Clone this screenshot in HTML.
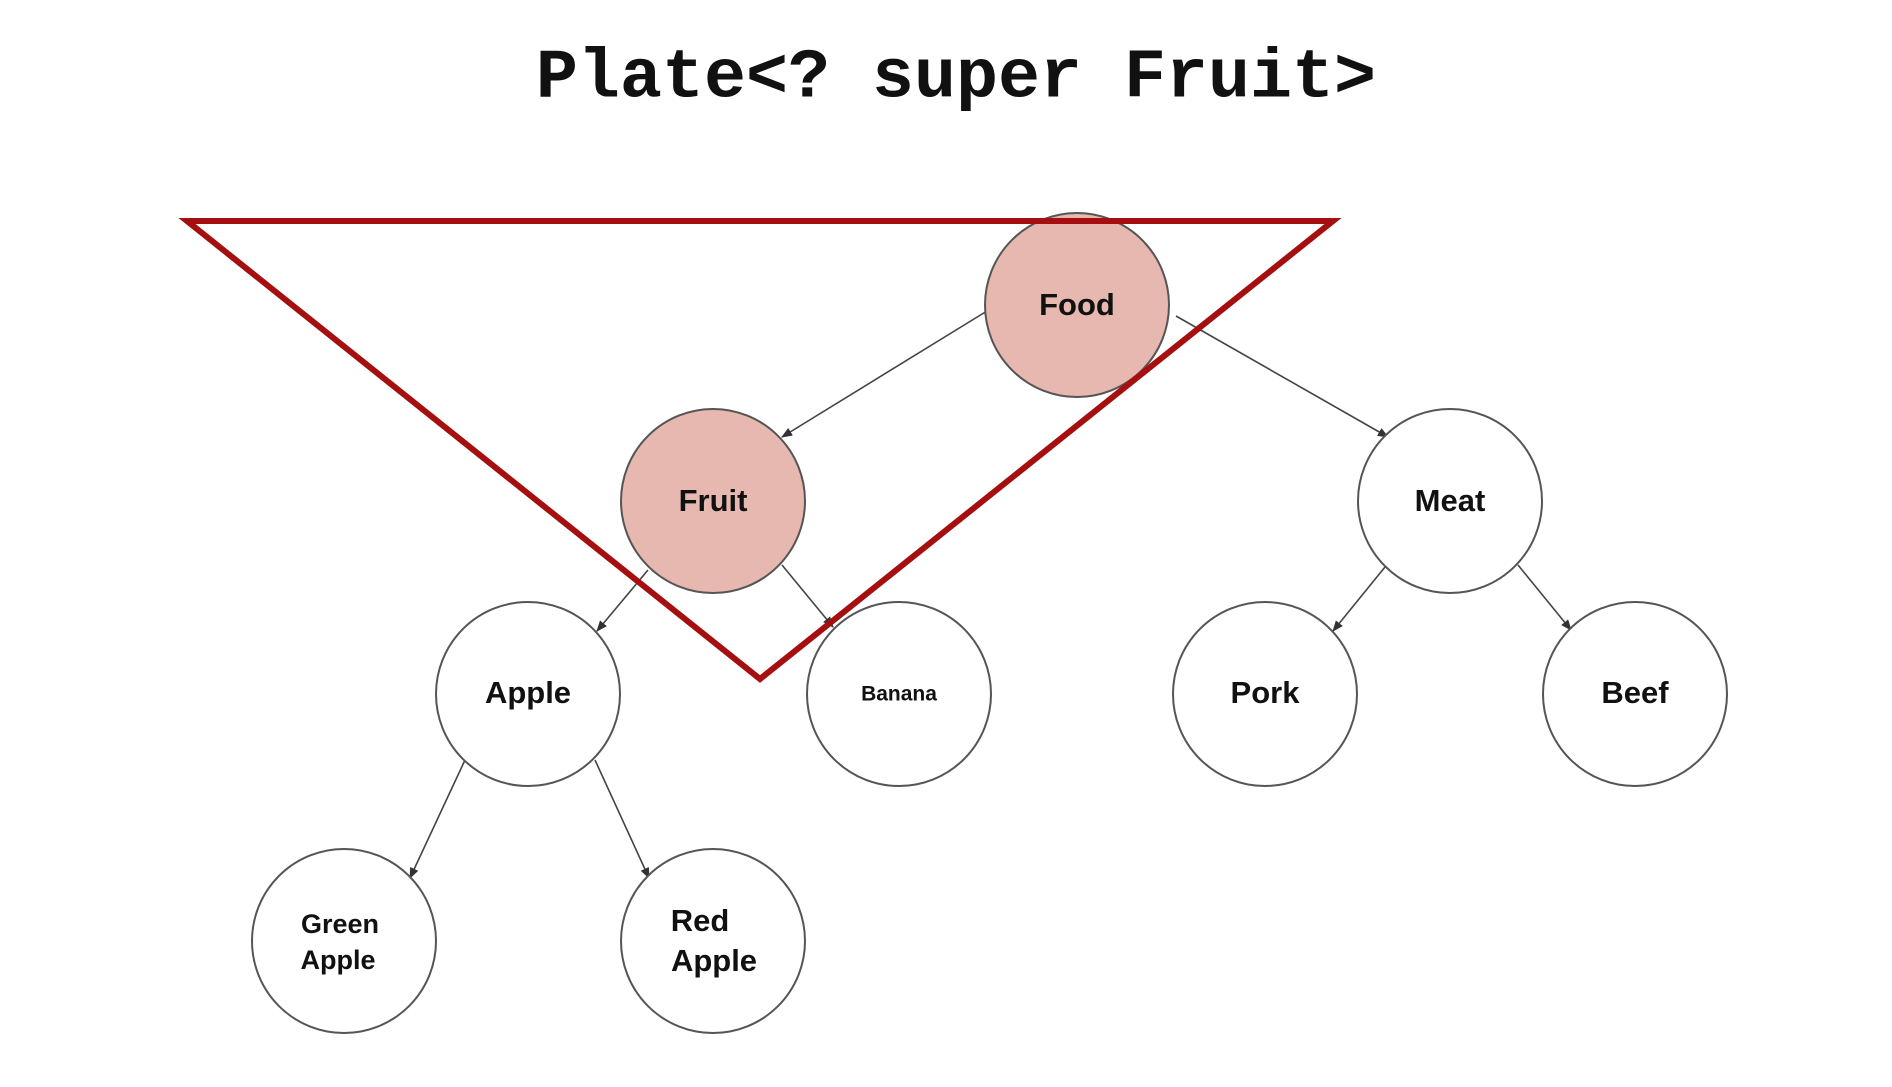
<!DOCTYPE html>
<html><head><style>
html,body{margin:0;padding:0;background:#fff;}
svg{display:block;}
</style></head><body>
<svg width="1892" height="1087" viewBox="0 0 1892 1087" xmlns="http://www.w3.org/2000/svg">
<defs><marker id="a" viewBox="0 0 10 10" refX="9" refY="5" markerWidth="7" markerHeight="7" orient="auto"><path d="M0,1 L10,5 L0,9 z" fill="#333"/></marker></defs>
<text x="956" y="78" text-anchor="middle" dominant-baseline="middle" font-family="Liberation Mono, monospace" font-weight="bold" font-size="70" fill="#111">Plate&lt;? super Fruit&gt;</text>
<g stroke="#444" stroke-width="1.6" marker-end="url(#a)">
<line x1="987" y1="311" x2="782" y2="437"/>
<line x1="1176" y1="316" x2="1388" y2="437"/>
<line x1="648" y1="570" x2="597" y2="631"/>
<line x1="782" y1="565" x2="833" y2="627"/>
<line x1="1385" y1="567" x2="1333" y2="631"/>
<line x1="1518" y1="565" x2="1571" y2="630"/>
<line x1="465" y1="760" x2="410" y2="878"/>
<line x1="595" y1="760" x2="649" y2="878"/>
</g>
<g stroke="#555" stroke-width="2">
<circle cx="1077" cy="305" r="92" fill="#e6b8af"/>
<circle cx="713" cy="501" r="92" fill="#e6b8af"/>
<circle cx="1450" cy="501" r="92" fill="#fff"/>
<circle cx="528" cy="694" r="92" fill="#fff"/>
<circle cx="899" cy="694" r="92" fill="#fff"/>
<circle cx="1265" cy="694" r="92" fill="#fff"/>
<circle cx="1635" cy="694" r="92" fill="#fff"/>
<circle cx="344" cy="941" r="92" fill="#fff"/>
<circle cx="713" cy="941" r="92" fill="#fff"/>
</g>
<polygon points="187,221 1333,221 760,679" fill="none" stroke="#a50f0f" stroke-width="6" stroke-linejoin="miter"/>
<g font-family="Liberation Sans, Arial, sans-serif" font-weight="bold" font-size="31" fill="#111" text-anchor="middle" dominant-baseline="middle">
<text x="1077" y="307">Food</text>
<text x="713" y="503">Fruit</text>
<text x="1450" y="503">Meat</text>
<text x="528" y="695">Apple</text>
<text x="899" y="695" font-size="21">Banana</text>
<text x="1265" y="695">Pork</text>
<text x="1635" y="695">Beef</text>
<text x="340" y="926" font-size="27">Green</text>
<text x="338" y="962" font-size="27">Apple</text>
<text x="700" y="923">Red</text>
<text x="714" y="963">Apple</text>
</g>
</svg>
</body></html>
